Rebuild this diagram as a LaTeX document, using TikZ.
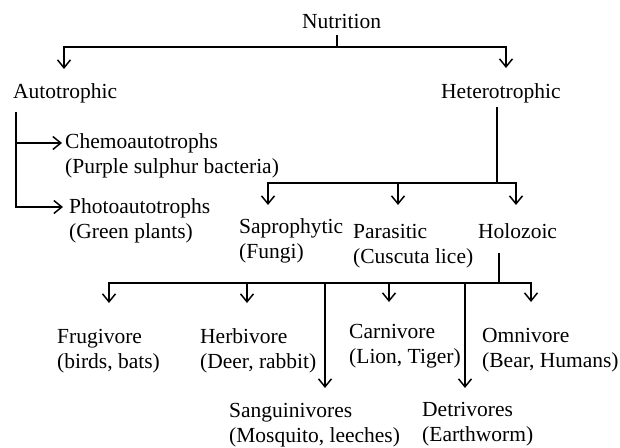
\documentclass[tikz,border=0pt]{standalone}
\usepackage{fontspec}
\setmainfont{Liberation Serif}
\usetikzlibrary{arrows.meta}
\begin{document}
\begin{tikzpicture}[x=1pt,y=-1pt,
        font=\fontsize{21.5}{25}\selectfont,
        txt/.style={anchor=base west,inner sep=0pt,align=left},
        link/.style={line width=1.5pt},
        arr/.style={link,-{Straight Barb[length=8pt,width=13pt]}}]
        \useasboundingbox (0,0) rectangle (620,447);
        %% Labels (base = last line)
        \node[txt] (nut) at (302,28) {Nutrition};
        \node[txt] (auto) at (13,98) {Autotrophic};
        \node[txt] (hetero) at (441,98) {Heterotrophic};
        \node[txt] (chemo) at (65,173) {Chemoautotrophs\\(Purple sulphur bacteria)};
        \node[txt] (photo) at (69,238) {Photoautotrophs\\(Green plants)};
        \node[txt] (sapro) at (239,258) {Saprophytic\\(Fungi)};
        \node[txt] (para) at (353,263) {Parasitic\\(Cuscuta lice)};
        \node[txt] (holo) at (478,238) {Holozoic};
        \node[txt] (frug) at (57,368) {Frugivore\\(birds, bats)};
        \node[txt] (herb) at (200,368) {Herbivore\\(Deer, rabbit)};
        \node[txt] (carn) at (349,363) {Carnivore\\(Lion, Tiger)};
        \node[txt] (omni) at (482,367) {Omnivore\\(Bear, Humans)};
        \node[txt] (sang) at (229,442) {Sanguinivores\\(Mosquito, leeches)};
        \node[txt] (detr) at (422,441) {Detrivores\\(Earthworm)};
        %% Junctions
        \coordinate (nutbar) at (337,47);
        \coordinate (autostem) at (16,112);
        \coordinate (hetbar) at (497,183);
        \coordinate (holbar) at (499,283);
        %% Arrow ends
        \coordinate (autoin) at ([xshift=51pt,yshift=29pt]auto.base west);
        \coordinate (heteroin) at ([xshift=65pt,yshift=30pt]hetero.base west);
        \coordinate (chemoin) at ([xshift=-3pt,yshift=30pt]chemo.base west);
        \coordinate (photoin) at ([xshift=-6pt,yshift=31pt]photo.base west);
        \coordinate (saproin) at ([xshift=29pt,yshift=53pt]sapro.base west);
        \coordinate (parain) at ([xshift=45pt,yshift=58pt]para.base west);
        \coordinate (holoin) at ([xshift=38pt,yshift=33pt]holo.base west);
        \coordinate (frugin) at ([xshift=52pt,yshift=65pt]frug.base west);
        \coordinate (herbin) at ([xshift=47pt,yshift=65pt]herb.base west);
        \coordinate (sangin) at ([xshift=96pt,yshift=54pt]sang.base west);
        \coordinate (carnin) at ([xshift=40pt,yshift=61pt]carn.base west);
        \coordinate (detrin) at ([xshift=43pt,yshift=53pt]detr.base west);
        \coordinate (omniin) at ([xshift=49pt,yshift=65pt]omni.base west);
        %% Nutrition
        \draw[link] ([yshift=-7pt]nutbar |- nut.base) -- (nutbar);
        \draw[arr] (nutbar) -| (autoin);
        \draw[arr] (nutbar) -| (heteroin);
        %% Autotrophic
        \draw[arr] (autostem) |- (photoin);
        \draw[arr] (autostem |- chemoin) -- (chemoin);
        %% Heterotrophic
        \draw[link] ([yshift=-9pt]hetbar |- hetero.base) -- (hetbar);
        \draw[arr] (hetbar) -| (saproin);
        \draw[arr] (hetbar) -| (parain);
        \draw[arr] (hetbar) -| (holoin);
        %% Holozoic
        \draw[link] ([yshift=-15pt]holbar |- holo.base) -- (holbar);
        \foreach \t in {frugin,herbin,sangin,carnin,detrin,omniin}
            \draw[arr] (holbar) -| (\t);
    \end{tikzpicture}
\end{document}
